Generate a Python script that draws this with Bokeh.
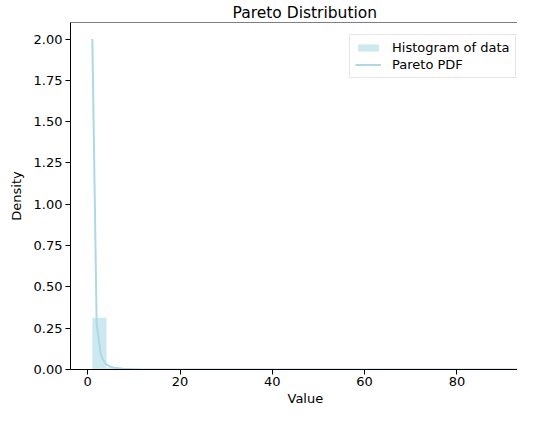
import numpy as np
from bokeh.plotting import figure
from bokeh.models import (ColumnDataSource, FixedTicker, PrintfTickFormatter, Range1d,
                          Legend, LegendItem, Title, Span)
from bokeh.embed import file_html
from bokeh.resources import INLINE

# ---- data ----
bin_min = 1.0
bin_max = 93.9
n_bins = 30
hist_density = [0.3125, 0.0125, 0.0035, 0.0013, 0.0007, 0.0006, 0.0003, 0.0003, 0.0, 0.0003,
                0.0, 0.0, 0.0003, 0.0, 0.0, 0.0, 0.0, 0.0, 0.0, 0.0,
                0.0, 0.0, 0.0, 0.0, 0.0, 0.0, 0.0, 0.0, 0.0, 0.0003]

pdf_x = [1.0, 1.94, 2.88, 3.82, 4.75, 5.69, 6.63, 7.57, 8.51, 9.45, 11.3, 15.1,
         20.7, 30.1, 45.0, 60.0, 75.0, 93.9]
pdf_y = [2.0, 0.274, 0.084, 0.036, 0.0187, 0.0109, 0.0069, 0.0046, 0.0032, 0.0024,
         0.0014, 0.0006, 0.0002, 0.0001, 0.00002, 0.00001, 0.0, 0.0]

x_ticks = [0, 20, 40, 60, 80]
y_ticks = [0.0, 0.25, 0.5, 0.75, 1.0, 1.25, 1.5, 1.75, 2.0]
y_top = 2.1

edges = np.linspace(bin_min, bin_max, n_bins + 1)
hist_src = ColumnDataSource(dict(left=edges[:-1], right=edges[1:], top=hist_density,
                                 bottom=[0.0] * n_bins))
pdf_src = ColumnDataSource(dict(x=pdf_x, y=pdf_y))

FONT = "DejaVu Sans"

p = figure(width=517, height=405, output_backend="svg", toolbar_location=None,
           x_range=Range1d(-3.73, 93.13), y_range=Range1d(0, y_top),
           min_border_left=70, min_border_right=0, min_border_top=0, min_border_bottom=0)

p.title.text = "Pareto Distribution"
p.title.align = "left"
p.title.offset = 162
p.title.text_font = FONT
p.title.text_font_size = "15.5px"
p.title.text_font_style = "normal"
p.title.text_color = "#000000"
p.title.standoff = 2

hist_r = p.quad(left="left", right="right", top="top", bottom="bottom", source=hist_src,
                fill_color="#add8e6", fill_alpha=0.6, line_color=None)
line_r = p.line("x", "y", source=pdf_src, line_color="#add8e6", line_width=2)

p.xgrid.visible = False
p.ygrid.visible = False
p.outline_line_color = None
p.background_fill_color = "white"
p.border_fill_color = "white"

# top spine (the right spine lies outside the visible window in the reference)
p.add_layout(Span(location=y_top, dimension="width", line_color="#000000", line_width=1))

p.xaxis.ticker = FixedTicker(ticks=x_ticks)
p.yaxis.ticker = FixedTicker(ticks=y_ticks)
p.yaxis.formatter = PrintfTickFormatter(format="%.2f")

for ax in (p.xaxis, p.yaxis):
    ax.major_tick_out = 5
    ax.major_tick_in = 0
    ax.minor_tick_out = 0
    ax.minor_tick_in = 0
    ax.major_tick_line_color = "#000000"
    ax.axis_line_color = "#000000"
    ax.major_label_text_font = FONT
    ax.major_label_text_font_size = "13px"
    ax.major_label_text_color = "#000000"
    ax.major_label_standoff = 3

p.xaxis.major_label_standoff = 2

p.yaxis.axis_label = "Density"
p.yaxis.axis_label_text_font = FONT
p.yaxis.axis_label_text_font_size = "13px"
p.yaxis.axis_label_text_font_style = "normal"
p.yaxis.axis_label_text_color = "#000000"
p.yaxis.axis_label_standoff = 7

xlabel = Title(text="Value", align="left", offset=217, text_font=FONT,
               text_font_size="13px", text_font_style="normal", text_color="#000000",
               standoff=0)
p.add_layout(xlabel, "below")

legend = Legend(items=[LegendItem(label="Histogram of data", renderers=[hist_r]),
                       LegendItem(label="Pareto PDF", renderers=[line_r])],
                location=(279, 291), margin=0, padding=5, spacing=2,
                glyph_width=26, glyph_height=9, label_standoff=11,
                label_text_font=FONT, label_text_font_size="13px",
                label_text_color="#000000",
                border_line_color="#cccccc", border_line_width=1,
                background_fill_color="white", background_fill_alpha=0.8)
p.add_layout(legend)

open("out.html", "w").write(file_html(p, INLINE))
